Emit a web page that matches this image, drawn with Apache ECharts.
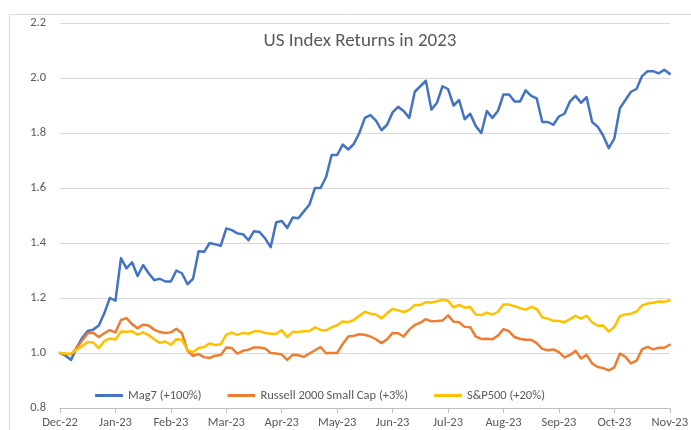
<!DOCTYPE html>
<html>
<head>
<meta charset="utf-8">
<script src="https://cdn.jsdelivr.net/npm/echarts@6/dist/echarts.min.js"></script>
<style>html,body{margin:0;padding:0;background:#fff;}#c{width:691px;height:430px;}</style>
</head>
<body>
<div id="c"></div>
<script>
const monthLabels = ['Dec-22','Jan-23','Feb-23','Mar-23','Apr-23','May-23','Jun-23','Jul-23','Aug-23','Sep-23','Oct-23','Nov-23'];
const pointsPerMonth = 10;
const seriesNames = ['Mag7 (+100%)','Russell 2000 Small Cap (+3%)','S&P500 (+20%)'];

const mag7 = [
1.00,0.99,0.975,1.02,1.055,1.08,1.085,1.10,1.145,1.20,
1.19,1.345,1.308,1.33,1.28,1.32,1.29,1.265,1.27,1.26,
1.26,1.30,1.29,1.25,1.27,1.37,1.368,1.40,1.395,1.39,
1.453,1.447,1.435,1.432,1.41,1.443,1.44,1.417,1.385,1.475,
1.48,1.455,1.493,1.49,1.515,1.54,1.60,1.60,1.64,1.72,
1.72,1.758,1.74,1.76,1.80,1.855,1.865,1.845,1.81,1.83,
1.875,1.895,1.88,1.855,1.95,1.97,1.99,1.885,1.91,1.97,
1.96,1.90,1.92,1.85,1.87,1.825,1.80,1.88,1.855,1.88,
1.94,1.94,1.915,1.915,1.955,1.935,1.926,1.84,1.84,1.83,
1.86,1.87,1.915,1.935,1.91,1.93,1.84,1.823,1.79,1.745,
1.78,1.89,1.92,1.95,1.96,2.007,2.025,2.025,2.017,2.03,
2.015];

const russell = [
1.00,0.997,0.995,1.018,1.045,1.072,1.074,1.058,1.072,1.083,
1.075,1.12,1.127,1.105,1.09,1.103,1.10,1.085,1.076,1.073,
1.075,1.088,1.072,1.008,0.99,0.996,0.985,0.982,0.99,0.993,
1.02,1.018,0.998,1.008,1.012,1.02,1.02,1.016,1.00,0.998,
0.995,0.975,0.994,0.992,0.986,0.998,1.01,1.022,0.999,1.00,
1.00,1.033,1.06,1.063,1.068,1.066,1.06,1.05,1.036,1.05,
1.073,1.072,1.06,1.085,1.102,1.11,1.123,1.115,1.116,1.118,
1.137,1.114,1.112,1.095,1.094,1.06,1.051,1.052,1.05,1.063,
1.087,1.079,1.058,1.051,1.048,1.048,1.036,1.015,1.01,1.013,
1.003,0.984,0.993,1.008,0.98,0.993,0.962,0.949,0.945,0.937,
0.948,0.998,0.986,0.962,0.972,1.013,1.022,1.013,1.019,1.019,
1.03];

const sp500 = [
1.00,0.997,0.997,1.013,1.025,1.04,1.038,1.018,1.044,1.053,
1.049,1.078,1.077,1.079,1.067,1.075,1.065,1.05,1.037,1.042,
1.03,1.05,1.048,1.01,1.003,1.018,1.022,1.035,1.029,1.032,
1.067,1.074,1.066,1.073,1.07,1.079,1.079,1.073,1.07,1.07,
1.083,1.058,1.077,1.076,1.079,1.08,1.093,1.084,1.082,1.093,
1.101,1.115,1.112,1.12,1.135,1.15,1.143,1.14,1.126,1.145,
1.16,1.155,1.149,1.157,1.175,1.175,1.185,1.184,1.188,1.194,
1.19,1.166,1.175,1.165,1.167,1.14,1.138,1.147,1.14,1.15,
1.176,1.176,1.17,1.163,1.158,1.168,1.16,1.13,1.125,1.117,
1.116,1.112,1.123,1.135,1.125,1.135,1.112,1.099,1.10,1.078,
1.095,1.134,1.14,1.143,1.151,1.173,1.18,1.183,1.187,1.186,
1.192];

const colors = ['#4472C4','#ED7D31','#FFC000'];
const toPairs = arr => arr.map((v, i) => [i / pointsPerMonth, v]);
const font = "Carlito, Calibri, 'Liberation Sans Narrow', 'Liberation Sans', sans-serif";

const chart = echarts.init(document.getElementById('c'), null, {renderer: 'canvas'});
chart.setOption({
  animation: false,
  backgroundColor: '#fff',
  graphic: [{
    type: 'rect', silent: true, z: -10,
    shape: {x: 9.5, y: 14.5, width: 720, height: 450},
    style: {fill: 'none', stroke: '#d9d9d9', lineWidth: 1}
  }],
  title: {
    text: 'US Index Returns in 2023',
    left: 355, top: 27, textAlign: 'center',
    textStyle: {fontFamily: font, fontSize: 19, fontWeight: 'normal', color: '#595959'}
  },
  legend: {
    left: 90, top: 384,
    icon: 'roundRect', itemWidth: 28, itemHeight: 3, itemGap: 26,
    textStyle: {fontFamily: font, fontSize: 12.5, color: '#595959'},
    data: seriesNames
  },
  grid: {left: 60, right: 13, top: 23, bottom: 22, containLabel: false},
  xAxis: {
    type: 'value', min: 0, max: monthLabels.length - 1, interval: 1,
    axisLine: {show: true, lineStyle: {color: '#bfbfbf', width: 1}},
    axisTick: {show: true, length: 5, lineStyle: {color: '#bfbfbf'}},
    splitLine: {show: false},
    axisLabel: {
      margin: 8, color: '#595959', fontFamily: font, fontSize: 12.5,
      formatter: v => monthLabels[Math.round(v)] || ''
    }
  },
  yAxis: {
    type: 'value', min: 0.8, max: 2.2, interval: 0.2,
    axisLine: {show: false}, axisTick: {show: false},
    splitLine: {show: true, lineStyle: {color: '#d9d9d9', width: 1}},
    axisLabel: {
      margin: 14, color: '#595959', fontFamily: font, fontSize: 12.5,
      formatter: v => v.toFixed(1)
    }
  },
  series: [mag7, russell, sp500].map((arr, k) => ({
    name: seriesNames[k], type: 'line', data: toPairs(arr),
    showSymbol: false, symbol: 'none', smooth: false,
    lineStyle: {color: colors[k], width: 2.5, cap: 'round', join: 'round'},
    itemStyle: {color: colors[k]}
  }))
});
</script>
</body>
</html>
